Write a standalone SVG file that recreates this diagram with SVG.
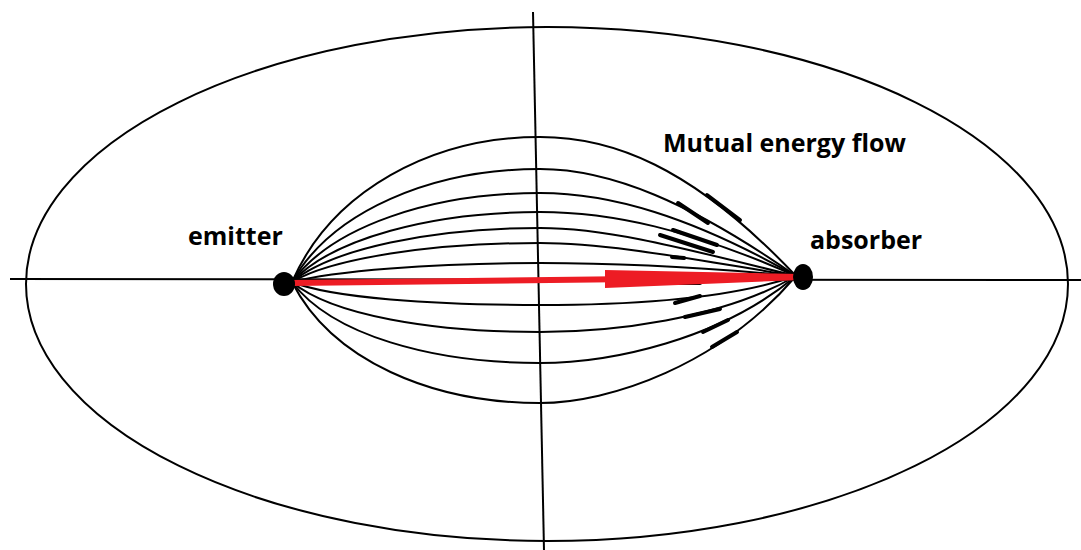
<svg xmlns="http://www.w3.org/2000/svg" width="1081" height="550" viewBox="0 0 1081 550">
<style>
.ln{fill:none;stroke:#000;stroke-width:2;stroke-linecap:round}
.ax{fill:none;stroke:#000;stroke-width:2}
.ar{fill:none;stroke:#000;stroke-width:4;stroke-linecap:round}
.lbl{font-family:"Open Sans","Liberation Sans",sans-serif;font-weight:bold;font-size:25px;fill:#000}
</style>
<rect width="1081" height="550" fill="#fff"/>
<g id="frame">
<ellipse cx="547" cy="284" rx="521" ry="257" class="ax" stroke-width="1.8"/>
<line x1="10" y1="279" x2="1081" y2="280" class="ax"/>
<line x1="533" y1="12" x2="544" y2="550" class="ax"/>
</g>
<g id="connectors">
<path class="ln" d="M292 282 C332 190.5 432 137 540 137 C610 137 690 164 796 276"/>
<path class="ln" d="M292 282 C332 211 432 169 540 169 C610 169 690 202 796 276"/>
<path class="ln" d="M292 282 C332 226.3 432 193 540 193 C610 193 690 216 796 276"/>
<path class="ln" d="M292 282 C332 238.5 432 212 540 212 C610 212 690 229 796 276"/>
<path class="ln" d="M292 282 C332 248.7 432 228 540 228 C610 228 690 250 796 276"/>
<path class="ln" d="M292 282 C332 258.3 432 243 540 243 C610 243 690 259 796 276"/>
<path class="ln" d="M292 282 C332 271.1 432 263 540 263 C610 263 690 266 796 276"/>
<path class="ln" d="M292 282 C332 298 432 305 540 305 C610 305 720 302 796 276"/>
<path class="ln" d="M292 282 C332 315.3 432 332 540 332 C610 332 720 320 796 276"/>
<path class="ln" d="M292 282 C332 335.1 432 363 540 363 C610 363 720 340 796 276"/>
<path class="ln" d="M292 282 C332 360.7 432 403 540 403 C610 403 720 365 796 276"/>
<g id="arrowheads">
<path class="ar" d="M707 195 L740 220"/>
<path class="ar" d="M678 203 L708 223"/>
<path class="ar" d="M673 230 L717 245"/>
<path class="ar" d="M660 235 L713 252"/>
<path class="ar" d="M672 257 L684 258"/>
<path class="ar" d="M670 283 L700 283"/>
<path class="ar" d="M675 303 L700 296"/>
<path class="ar" d="M685 317 L720 309"/>
<path class="ar" d="M703 332 L728 320"/>
<path class="ar" d="M712 347 L737 332"/>
</g>
<g id="mutual-flow-arrow">
<line x1="292" y1="283" x2="800" y2="277" stroke="#ed1c24" stroke-width="6"/>
<polygon points="605,270 800,274 800,280 605,288" fill="#ed1c24"/>
</g>
</g>
<g id="emitter">
<ellipse cx="284" cy="284" rx="11" ry="12" fill="#000"/>
<text x="188" y="245" class="lbl">emitter</text>
</g>
<g id="absorber">
<ellipse cx="803" cy="277" rx="10" ry="13" fill="#000"/>
<text x="810" y="249" class="lbl">absorber</text>
</g>
<g id="label">
<text x="663" y="152" class="lbl">Mutual energy flow</text>
</g>
</svg>
